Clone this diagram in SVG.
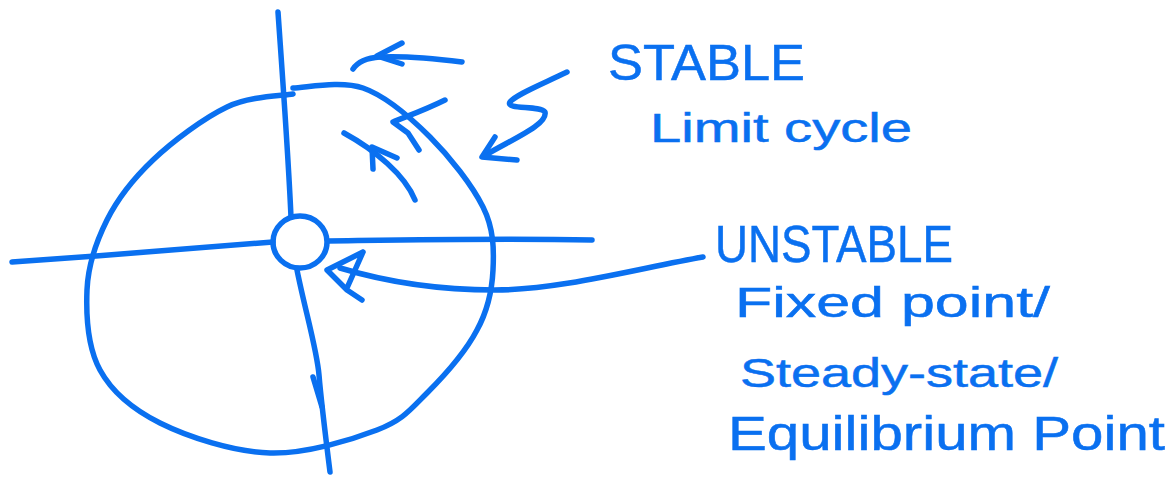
<svg xmlns="http://www.w3.org/2000/svg" width="1171" height="478" viewBox="0 0 1171 478">
<style>
.ink{fill:none;stroke:#0a70f0;stroke-width:5.5;stroke-linecap:round;stroke-linejoin:round}
.lbl{font-family:"Liberation Sans","DejaVu Sans",sans-serif;fill:#0a70f0;stroke:#0a70f0;stroke-width:0.5}
</style>
<rect width="1171" height="478" fill="#ffffff"/>
<g id="axes">
<path class="ink" d="M278,12 C282,70 288,150 291,217"/>
<path class="ink" d="M297,270 C305,310 317,350 319,375 C321,400 326,440 330,472"/>
<path class="ink" d="M313,377 L322,407"/>
<path class="ink" d="M12,262 C100,256 200,248 273,242"/>
<path class="ink" d="M328,241 C400,240 500,238 592,240"/>
</g>
<g id="limit-cycle">
<path class="ink" d="M293,94 C282,96 250,96 227,107 C204,118 173,141 153,160 C133,179 118,198 107,220 C96,242 88,265 87,290 C86,315 88,348 100,370 C112,392 132,409 160,423 C188,437 234,452 270,453 C306,454 351,440 377,430 C403,420 410,410 427,393 C444,376 466,351 477,330 C488,310 492,291 493,270 C494,250 494,229 483,207 C472,185 450,157 430,137 C410,117 386,96 363,88 C340,80 305,88 293,88"/>
</g>
<g id="fixed-point">
<ellipse class="ink" cx="300" cy="242" rx="27" ry="26"/>
</g>
<g id="connectors">
<path class="ink" d="M462,62 C430,58 400,56 380,57 C365,58 357,63 353,69"/>
<path class="ink" d="M402,43 L377,56 L402,64"/>
<path class="ink" d="M445,100 C425,110 405,117 393,122 L408,133 L419,150"/>
<path class="ink" d="M415,200 C405,175 375,150 344,133"/>
<path class="ink" d="M373,169 L372,147 L397,158"/>
<path class="ink" d="M567,72 C540,85 515,95 510,102 C505,110 540,105 545,112 C548,125 510,140 484,156"/>
<path class="ink" d="M495,137 L482,157 L517,160"/>
<path class="ink" d="M703,257 C640,268 560,290 495,290 C430,290 380,280 340,268"/>
<path class="ink" d="M363,252 L327,270 L347,290 L362,300 M363,252 L347,288"/>
</g>
<g id="label-stable">
<text class="lbl" x="608" y="80" font-size="50" textLength="197" lengthAdjust="spacingAndGlyphs">STABLE</text>
<text class="lbl" x="650" y="142" font-size="40" textLength="262" lengthAdjust="spacingAndGlyphs">Limit cycle</text>
</g>
<g id="label-unstable">
<text class="lbl" x="715" y="262" font-size="52" textLength="238" lengthAdjust="spacingAndGlyphs">UNSTABLE</text>
<text class="lbl" x="735" y="317" font-size="42" textLength="315" lengthAdjust="spacingAndGlyphs">Fixed point/</text>
<text class="lbl" x="740" y="387" font-size="40" textLength="318" lengthAdjust="spacingAndGlyphs">Steady-state/</text>
<text class="lbl" x="728" y="450" font-size="48" textLength="437" lengthAdjust="spacingAndGlyphs">Equilibrium Point</text>
</g>
</svg>
